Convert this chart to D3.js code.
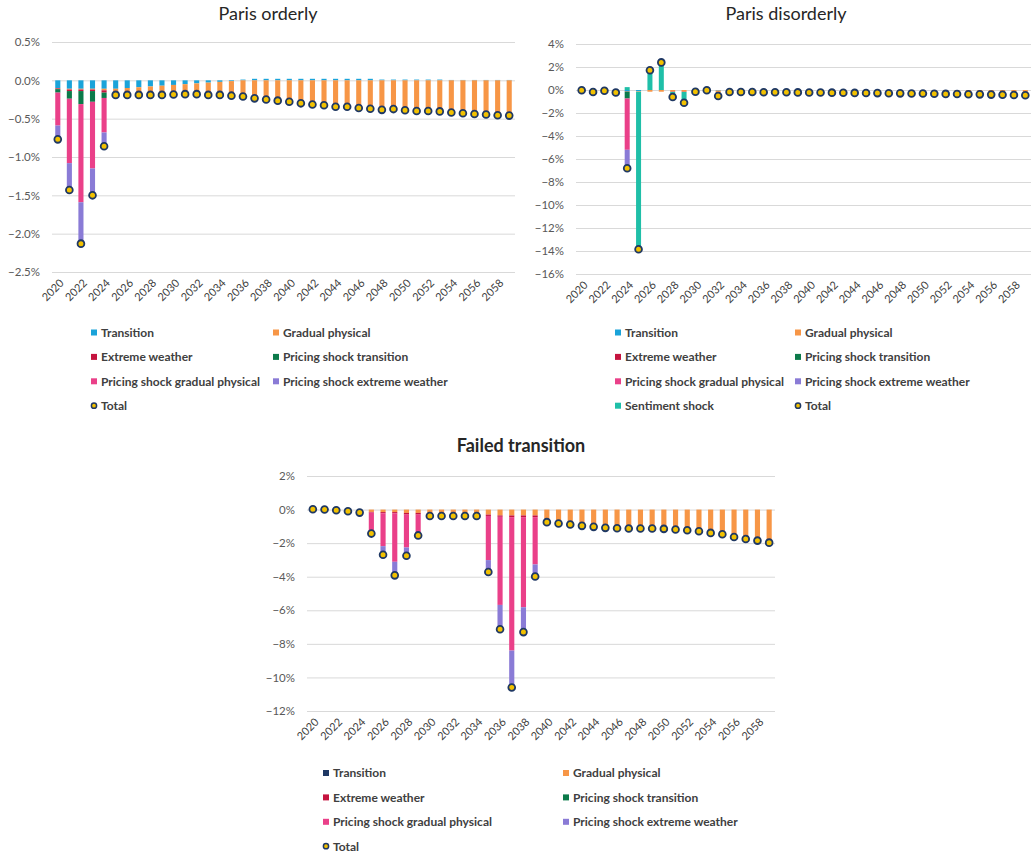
<!DOCTYPE html>
<html><head><meta charset="utf-8">
<script src="https://cdn.jsdelivr.net/npm/d3@7"></script>
<style>
body{margin:0;background:#fff;}
svg{display:block;font-family:Lato,"Open Sans",sans-serif;}
</style></head><body>
<svg id="chart" width="1033" height="856"></svg>
<script>
// ---------- shared ----------
const years = d3.range(2020, 2060);
const tickYears = years.filter(y => y % 2 === 0);
const seriesNames = ["Transition","Gradual physical","Extreme weather","Pricing shock transition","Pricing shock gradual physical","Pricing shock extreme weather","Sentiment shock"];

// ---------- Paris orderly (%) ----------
const po_transition = [-0.10,-0.11,-0.11,-0.11,-0.11, -0.11,-0.10,-0.09,-0.08,-0.07, -0.06,-0.05,-0.04,-0.03,-0.02, -0.01,0.01,0.02,0.02,0.02, 0.02,0.02,0.02,0.02,0.02, 0.02,0.02,0.02,0.01,0.01, 0.01,0.01,0.01,0.01,0.005, 0.005,0.005,0.005,0.005,0.005];
const po_gradual = [-0.005,-0.01,-0.01,-0.01,-0.02, -0.075,-0.085,-0.095,-0.105,-0.115, -0.12,-0.125,-0.135,-0.155,-0.165, -0.185,-0.215,-0.245,-0.26,-0.275, -0.285,-0.305,-0.315,-0.325,-0.345, -0.345,-0.355,-0.365,-0.365,-0.355, -0.37,-0.38,-0.375,-0.38,-0.39, -0.395,-0.405,-0.41,-0.415,-0.42];
const po_extreme = [-0.01,-0.02,-0.02,-0.02,-0.03, -0.005,-0.005,-0.005,-0.005,-0.005, -0.005,-0.005,-0.005,-0.005,-0.005, -0.005,-0.005,-0.01,-0.01,-0.01, -0.015,-0.015,-0.02,-0.02,-0.02, -0.02,-0.025,-0.025,-0.03,-0.03, -0.03,-0.03,-0.035,-0.035,-0.035, -0.04,-0.04,-0.04,-0.045,-0.045];
const po_pst = [-0.045,-0.10,-0.17,-0.14,-0.07, 0,0,0,0,0, 0,0,0,0,0, 0,0,0,0,0, 0,0,0,0,0, 0,0,0,0,0, 0,0,0,0,0, 0,0,0,0,0];
const po_psg = [-0.43,-0.84,-1.28,-0.87,-0.45, 0,0,0,0,0, 0,0,0,0,0, 0,0,0,0,0, 0,0,0,0,0, 0,0,0,0,0, 0,0,0,0,0, 0,0,0,0,0];
const po_pse = [-0.18,-0.35,-0.54,-0.35,-0.18, 0,0,0,0,0, 0,0,0,0,0, 0,0,0,0,0, 0,0,0,0,0, 0,0,0,0,0, 0,0,0,0,0, 0,0,0,0,0];
const po_total = [-0.77,-1.43,-2.13,-1.50,-0.86, -0.19,-0.19,-0.19,-0.19,-0.19, -0.185,-0.18,-0.18,-0.19,-0.19, -0.20,-0.21,-0.235,-0.25,-0.265, -0.28,-0.30,-0.315,-0.325,-0.345, -0.345,-0.36,-0.37,-0.385,-0.375, -0.39,-0.40,-0.40,-0.405,-0.42, -0.43,-0.44,-0.445,-0.455,-0.46];
const po_ticks = [0.5,0,-0.5,-1.0,-1.5,-2.0,-2.5];

// ---------- Paris disorderly (%) ----------
const pd_transition = [-0.02,-0.1,-0.03,-0.12,-0.1, -0.1,0,0,0,0, -0.05,0.03,-0.05,-0.05,-0.05, -0.04,-0.04,-0.03,-0.03,-0.02, -0.02,-0.01,-0.01,0,0, 0,0,0,0,0, 0,0,0,0,0, 0,0,0,0,0];
const pd_gradual = [0,-0.07,-0.03,-0.1,-0.02, -0.05,-0.15,-0.15,-0.15,-0.15, -0.1,-0.05,-0.2,-0.12,-0.12, -0.13,-0.14,-0.16,-0.16,-0.18, -0.19,-0.2,-0.21,-0.23,-0.24, -0.24,-0.25,-0.26,-0.27,-0.28, -0.29,-0.3,-0.32,-0.32,-0.34, -0.35,-0.37,-0.38,-0.4,-0.42];
const pd_extreme = [0,0,0,0,-0.02, 0,0,0,-0.02,-0.02, 0,0,0,-0.01,-0.01, -0.01,-0.01,-0.01,-0.01,-0.01, -0.01,-0.01,-0.01,-0.01,-0.01, -0.02,-0.02,-0.02,-0.02,-0.02, -0.02,-0.02,-0.02,-0.03,-0.03, -0.03,-0.03,-0.03,-0.03,-0.03];
const pd_pst = [0,0,0,0,-0.6, 0,0,0,0,0, 0,0,0,0,0, 0,0,0,0,0, 0,0,0,0,0, 0,0,0,0,0, 0,0,0,0,0, 0,0,0,0,0];
const pd_psg = [0,0,0,0,-4.46, 0,0,0,0,0, 0,0,0,0,0, 0,0,0,0,0, 0,0,0,0,0, 0,0,0,0,0, 0,0,0,0,0, 0,0,0,0,0];
const pd_pse = [0,0,0,0,-1.85, 0,0,0,0,0, 0,0,0,0,0, 0,0,0,0,0, 0,0,0,0,0, 0,0,0,0,0, 0,0,0,0,0, 0,0,0,0,0];
const pd_sentiment = [0,0,0,0,0.25, -13.7,1.87,2.55,-0.44,-0.94, 0,0,-0.27,0,0, 0,0,0,0,0, 0,0,0,0,0, 0,0,0,0,0, 0,0,0,0,0, 0,0,0,0,0];
const pd_total = [-0.02,-0.17,-0.06,-0.22,-6.8, -13.85,1.72,2.4,-0.61,-1.11, -0.15,-0.02,-0.52,-0.18,-0.18, -0.18,-0.19,-0.2,-0.2,-0.21, -0.22,-0.22,-0.23,-0.24,-0.25, -0.26,-0.27,-0.28,-0.29,-0.3, -0.31,-0.32,-0.34,-0.35,-0.37, -0.38,-0.4,-0.41,-0.43,-0.45];
const pd_ticks = [4,2,0,-2,-4,-6,-8,-10,-12,-14,-16];

// ---------- Failed transition (%) ----------
const ft_transition = [0.02,0,-0.04,-0.1,-0.18, 0,0,0,0,0, 0,0,0,0,0, 0,0,0,0,0, 0,0,0,0,0, 0,0,0,0,0, 0,0,0,0,0, 0,0,0,0,0];
const ft_gradual = [0,0,0,0,0, -0.14,-0.15,-0.15,-0.2,-0.2, -0.3,-0.3,-0.3,-0.3,-0.3, -0.3,-0.35,-0.35,-0.35,-0.35, -0.73,-0.81,-0.87,-0.95,-1.01, -1.07,-1.09,-1.11,-1.11,-1.11, -1.12,-1.16,-1.20,-1.26,-1.34, -1.42,-1.58,-1.70,-1.80,-1.92];
const ft_extreme = [0,0,0,0,0, -0.04,-0.07,-0.08,-0.1,-0.1, -0.08,-0.08,-0.08,-0.08,-0.08, -0.08,-0.08,-0.1,-0.1,-0.1, -0.02,-0.02,-0.02,-0.02,-0.02, -0.02,-0.02,-0.02,-0.02,-0.02, -0.03,-0.03,-0.03,-0.03,-0.05, -0.05,-0.05,-0.05,-0.05,-0.05];
const ft_pst = [0,0,0,0,0, 0,0,0,0,0, 0,0,0,0,0, 0,0,0,0,0, 0,0,0,0,0, 0,0,0,0,0, 0,0,0,0,0, 0,0,0,0,0];
const ft_psg = [0,0,0,0,0, -1.15,-1.96,-2.88,-1.96,-1.2, 0,0,0,0,0, -2.63,-5.25,-7.95,-5.37,-2.82, 0,0,0,0,0, 0,0,0,0,0, 0,0,0,0,0, 0,0,0,0,0];
const ft_pse = [0,0,0,0,0, -0.1,-0.51,-0.81,-0.49,-0.04, 0,0,0,0,0, -0.71,-1.45,-2.2,-1.48,-0.72, 0,0,0,0,0, 0,0,0,0,0, 0,0,0,0,0, 0,0,0,0,0];
const ft_total = [0.02,0,-0.04,-0.1,-0.18, -1.43,-2.69,-3.92,-2.75,-1.54, -0.38,-0.38,-0.38,-0.38,-0.38, -3.72,-7.13,-10.6,-7.3,-3.99, -0.75,-0.83,-0.89,-0.97,-1.03, -1.09,-1.11,-1.13,-1.13,-1.13, -1.15,-1.19,-1.23,-1.29,-1.39, -1.47,-1.63,-1.75,-1.85,-1.97];
const ft_ticks = [2,0,-2,-4,-6,-8,-10,-12];

// ---------- colours ----------
const colLightTransition = "#1aa3d9";
const colNavyTransition = "#1f3864";
const colGradual = "#f79646";
const colExtreme = "#c5143f";
const colPST = "#0c7a4a";
const colPSG = "#ea4089";
const colPSE = "#8a7bd6";
const colSentiment = "#1fbfa8";
const colDotFill = "#f2c100";
const colDotStroke = "#1f3864";

const svg = d3.select("#chart");
svg.append("rect").attr("width",1033).attr("height",856).attr("fill","#fff");

function drawPanel(cfg){
  const g = svg.append("g");
  const x = d3.scaleBand().domain(years).range([cfg.x0, cfg.x1]).paddingInner(0.56).paddingOuter(0.28);
  const y = d3.scaleLinear().domain(cfg.domain).range([cfg.yBottom, cfg.yTop]);
  const keys = cfg.series.map(s => s.name);
  const rows = years.map((yr,i) => {
    const r = {year: yr};
    cfg.series.forEach(s => r[s.name] = s.values[i]);
    return r;
  });
  const stacked = d3.stack().keys(keys).offset(d3.stackOffsetDiverging)(rows);

  // title
  g.append("text").attr("x", cfg.titleX).attr("y", cfg.titleY)
    .attr("text-anchor","middle").attr("font-size", 18).attr("fill","#262626")
    .attr("font-weight", cfg.titleBold ? "bold" : "normal").text(cfg.title);

  // y axis with gridlines
  const yAxis = d3.axisLeft(y).tickValues(cfg.ticks).tickSize(-(cfg.x1 - cfg.x0)).tickPadding(12)
    .tickFormat(d => (d < 0 ? "\u2212" : "") + Math.abs(d).toFixed(cfg.decimals) + "%");
  const ya = g.append("g").attr("transform", `translate(${cfg.x0},0)`).call(yAxis);
  ya.select(".domain").remove();
  ya.selectAll(".tick line").attr("stroke","#d9d9d9").attr("stroke-width",1);
  ya.selectAll(".tick text").attr("fill","#595959").attr("font-size",11.5).attr("font-family","Lato,sans-serif");

  // bars
  g.append("g").selectAll("g").data(stacked).join("g")
    .attr("fill", d => cfg.series.find(s => s.name === d.key).color)
    .selectAll("rect").data(d => d).join("rect")
    .attr("x", d => x(d.data.year))
    .attr("width", x.bandwidth())
    .attr("y", d => y(Math.max(d[0], d[1])))
    .attr("height", d => Math.abs(y(d[0]) - y(d[1])));

  // total dots
  g.append("g").selectAll("circle").data(cfg.total).join("circle")
    .attr("cx", (d,i) => x(years[i]) + x.bandwidth()/2)
    .attr("cy", d => y(d))
    .attr("r", 3.4).attr("fill", colDotFill).attr("stroke", colDotStroke).attr("stroke-width", 1.8);

  // x axis labels (rotated -45deg, anchored at band centre)
  const lab = g.append("g").selectAll("g").data(tickYears).join("g")
    .attr("transform", d => `translate(${x(d) + x.bandwidth()/2 + 4},${cfg.yBottom + 9})`);
  lab.append("text")
    .attr("transform","matrix(0.7071,-0.7071,0.7071,0.7071,0,0)")
    .attr("text-anchor","end").attr("dy","0.35em")
    .attr("fill","#404040").attr("font-size",11).attr("font-family","Lato,sans-serif")
    .text(d => d);

  // legend
  const lg = g.append("g");
  const items = cfg.series.map(s => ({name: s.name, color: s.color, type: "sq"}));
  items.push({name: "Total", type: "dot"});
  items.forEach((it, i) => {
    const col = i % 2, row = Math.floor(i / 2);
    const lx = cfg.legendX[col], ly = cfg.legendY + row * 24.4;
    if (it.type === "sq") {
      lg.append("rect").attr("x", lx).attr("y", ly - 3).attr("width", 6).attr("height", 6).attr("fill", it.color);
    } else {
      lg.append("circle").attr("cx", lx + 3).attr("cy", ly).attr("r", 2.6)
        .attr("fill", colDotFill).attr("stroke", colDotStroke).attr("stroke-width", 1.5);
    }
    lg.append("text").attr("x", lx + 10).attr("y", ly).attr("dy","0.36em")
      .attr("font-size", 12).attr("font-weight","bold").attr("fill","#404040").text(it.name);
  });
}

drawPanel({
  title: "Paris orderly", titleX: 268, titleY: 20, titleBold: false,
  x0: 52, x1: 515, yTop: 42, yBottom: 272, domain: [-2.5, 0.5], ticks: po_ticks, decimals: 1,
  series: [
    {name: seriesNames[0], values: po_transition, color: colLightTransition},
    {name: seriesNames[1], values: po_gradual, color: colGradual},
    {name: seriesNames[2], values: po_extreme, color: colExtreme},
    {name: seriesNames[3], values: po_pst, color: colPST},
    {name: seriesNames[4], values: po_psg, color: colPSG},
    {name: seriesNames[5], values: po_pse, color: colPSE}
  ],
  total: po_total, legendX: [91, 273], legendY: 332.5
});

drawPanel({
  title: "Paris disorderly", titleX: 786, titleY: 20, titleBold: false,
  x0: 576, x1: 1031, yTop: 44, yBottom: 274, domain: [-16, 4], ticks: pd_ticks, decimals: 0,
  series: [
    {name: seriesNames[0], values: pd_transition, color: colLightTransition},
    {name: seriesNames[1], values: pd_gradual, color: colGradual},
    {name: seriesNames[2], values: pd_extreme, color: colExtreme},
    {name: seriesNames[3], values: pd_pst, color: colPST},
    {name: seriesNames[4], values: pd_psg, color: colPSG},
    {name: seriesNames[5], values: pd_pse, color: colPSE},
    {name: seriesNames[6], values: pd_sentiment, color: colSentiment}
  ],
  total: pd_total, legendX: [615, 795], legendY: 332.5
});

drawPanel({
  title: "Failed transition", titleX: 521, titleY: 452, titleBold: true,
  x0: 307, x1: 775, yTop: 476, yBottom: 711, domain: [-12, 2], ticks: ft_ticks, decimals: 0,
  series: [
    {name: seriesNames[0], values: ft_transition, color: colNavyTransition},
    {name: seriesNames[1], values: ft_gradual, color: colGradual},
    {name: seriesNames[2], values: ft_extreme, color: colExtreme},
    {name: seriesNames[3], values: ft_pst, color: colPST},
    {name: seriesNames[4], values: ft_psg, color: colPSG},
    {name: seriesNames[5], values: ft_pse, color: colPSE}
  ],
  total: ft_total, legendX: [323, 563], legendY: 773
});
</script>
</body></html>
